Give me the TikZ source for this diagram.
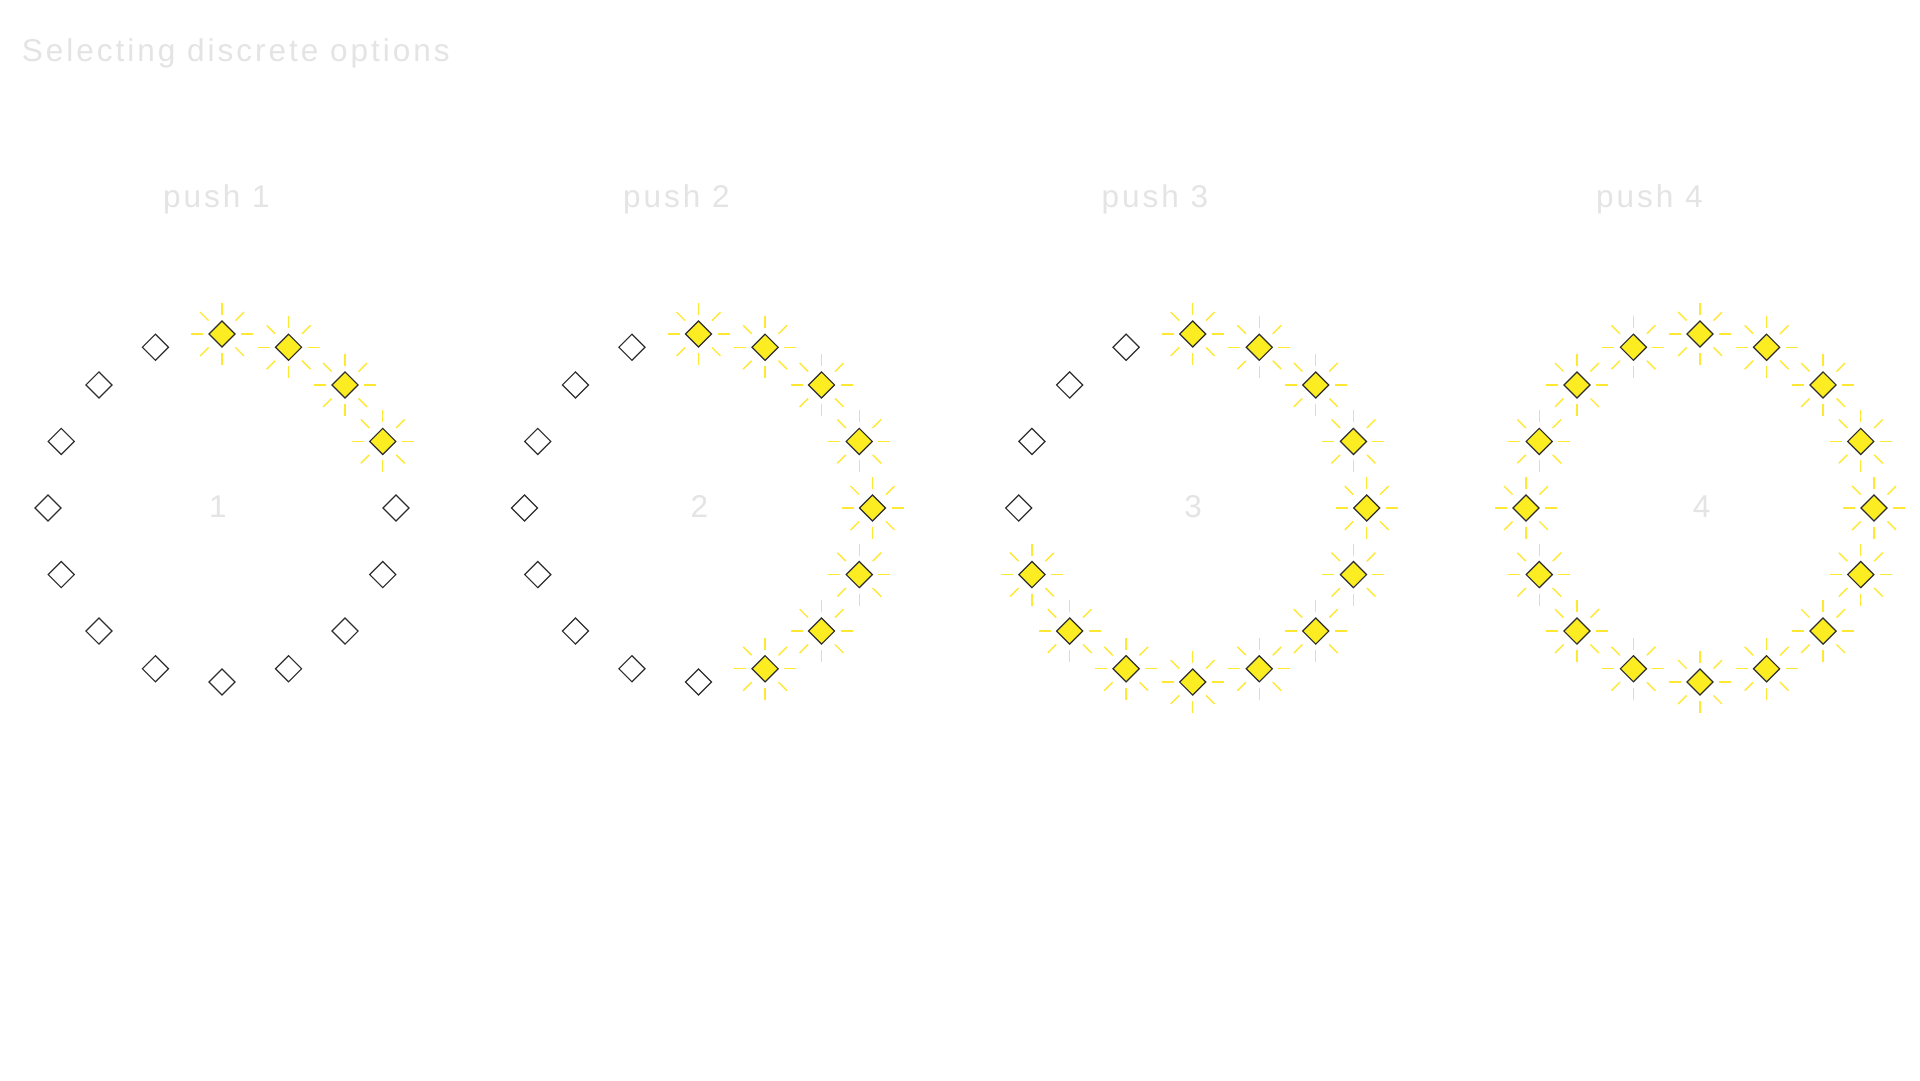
\documentclass[tikz,border=0pt]{standalone}
\usepackage{fontspec}
\newfontfamily\labfont[LetterSpace=9.5]{Liberation Sans}
\usetikzlibrary{shapes.geometric}
\definecolor{textgray}{RGB}{228,228,228}
\definecolor{edge}{RGB}{45,45,45}
\definecolor{lit}{RGB}{252,236,34}
\definecolor{raycol}{RGB}{255,232,50}
\tikzset{
  txt/.style={text=textgray, font=\fontsize{31.5}{38}\selectfont\labfont, inner sep=0pt},
  offbox/.style={diamond, aspect=1, draw=edge, fill=white, line width=1.2pt, minimum size=26.6pt, inner sep=0pt},
  onbox/.style={offbox, fill=lit},
  ray/.style={draw=raycol, line width=1.4pt}
}
\begin{document}
\begin{tikzpicture}[x=1pt,y=-1pt]
\fill[white] (0,0) rectangle (1920,1080);
\useasboundingbox (0,0) rectangle (1920,1080);
\node[txt, anchor=base west] (title) at (21.7,61.5) {Selecting discrete options};
\foreach \i/\cx/\lx/\nx/\n in {1/222/216.3/218/4, 2/698.5/676.3/699.5/8, 3/1192.7/1155/1193/12, 4/1700/1649.5/1701.5/16}{
  \node[txt, anchor=base] (push\i) at (\lx,207) {push \i};
  \node[txt, anchor=base] (num\i) at (\nx,517.5) {\i};
  \foreach \k in {0,...,15}{
    \pgfmathsetmacro\ang{22.5*\k}
    \ifnum\k<\n\relax
      \node[onbox] (d\i-\k) at ({\cx+174*sin(\ang)},{508-174*cos(\ang)}) {};
      \foreach \r in {0,45,...,315}{
        \draw[ray] (d\i-\k.center) ++(\r:19) -- ++(\r:12);
      }
    \else
      \node[offbox] (d\i-\k) at ({\cx+174*sin(\ang)},{508-174*cos(\ang)}) {};
    \fi
  }
}
\end{tikzpicture}
\end{document}
